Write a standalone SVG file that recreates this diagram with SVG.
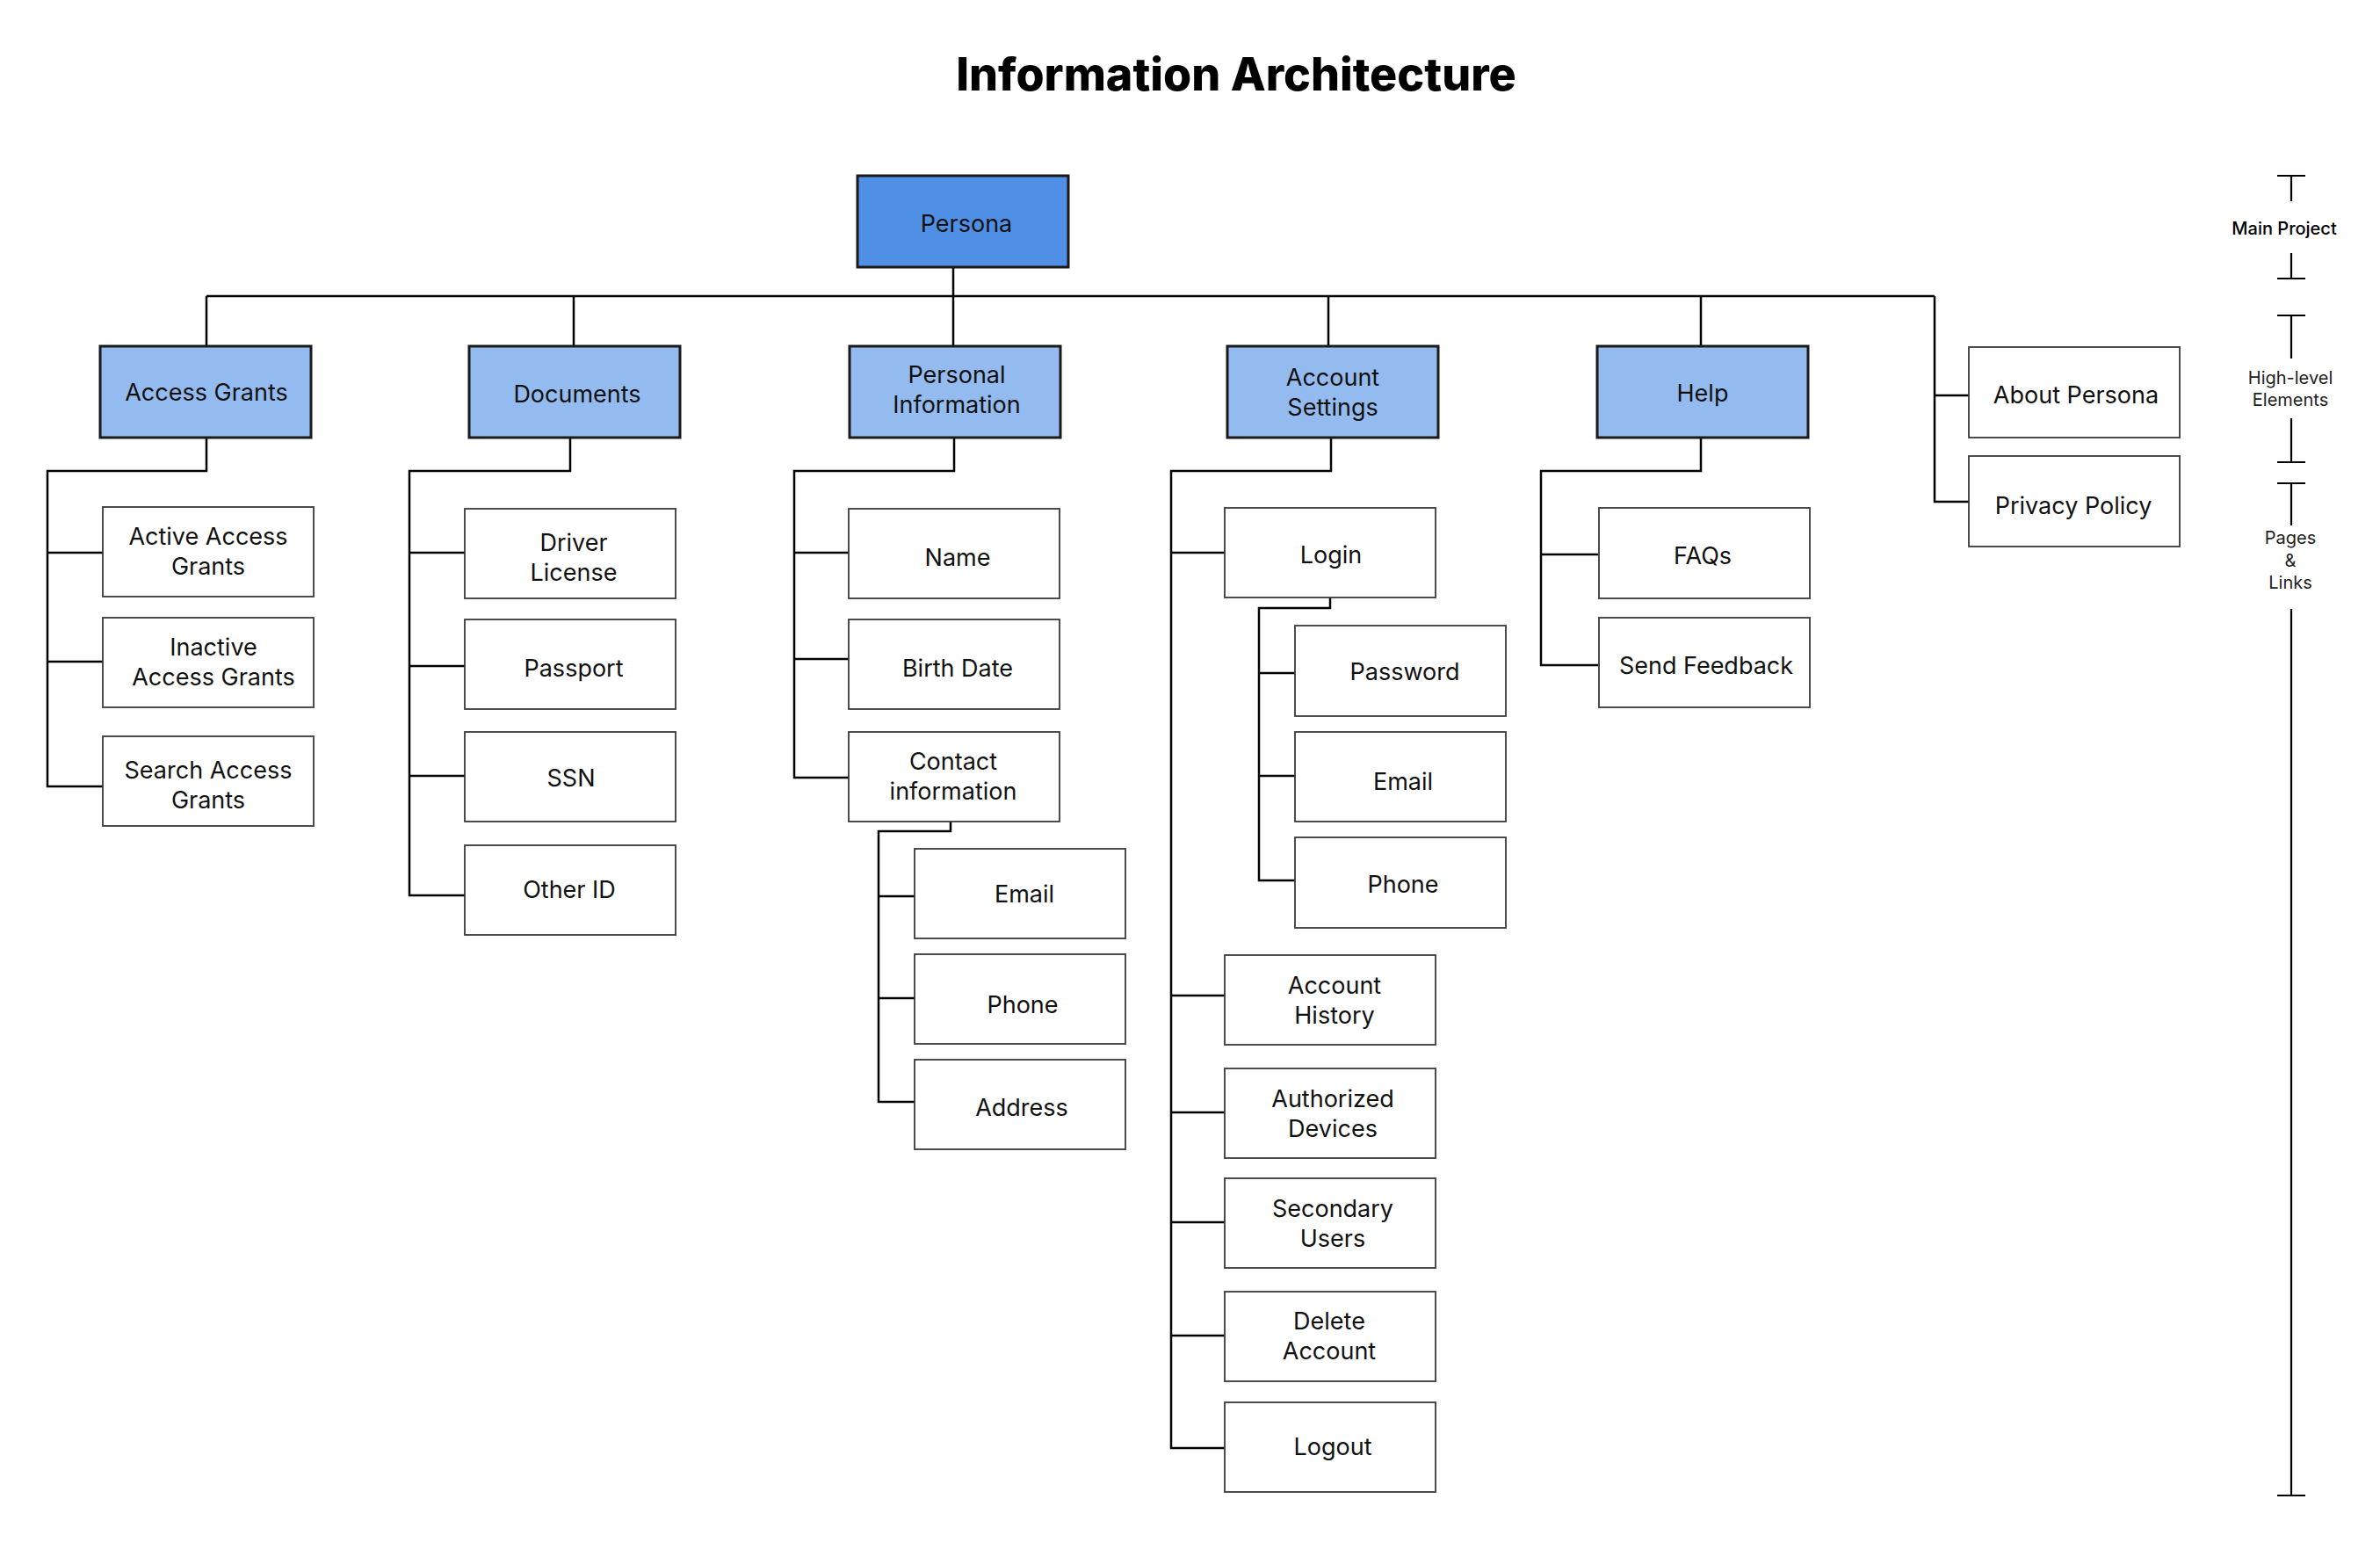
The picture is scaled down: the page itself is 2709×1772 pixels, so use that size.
<svg xmlns="http://www.w3.org/2000/svg" width="2709" height="1772" viewBox="0 0 2709 1772">
<style>
.c{fill:none;stroke:#000;stroke-width:2.5}
.w{fill:#fff;stroke:#3a3a3a;stroke-width:1.8}
.b1{fill:#94bbef;stroke:#1a1a1a;stroke-width:3}
.b0{fill:#4f90e6;stroke:#1a1a1a;stroke-width:3}
.t{font-family:Inter,"Liberation Sans",sans-serif;font-size:27px;fill:#111;text-anchor:middle}
.title{font-family:Inter,"Liberation Sans",sans-serif;font-size:52px;font-weight:800;fill:#000;text-anchor:middle}
.lg{font-family:Inter,"Liberation Sans",sans-serif;font-size:20px;fill:#222;text-anchor:middle}
.lgm{font-family:Inter,"Liberation Sans",sans-serif;font-size:20px;font-weight:500;fill:#000;text-anchor:middle}
.leg{fill:none;stroke:#000;stroke-width:2.2}
</style>
<rect width="2709" height="1772" fill="#fff"/>
<text class="title" x="1407" y="103">Information Architecture</text>

<g id="connectors">
<path class="c" d="M1085 304V337M235 337H2202M235 337V394M653 337V394M1085 337V394M1512 337V394M1936 337V394M2202 337V571H2241M2202 450H2241"/>
<path class="c" d="M235 498V536H54V895H117M54 629H117M54 753H117"/>
<path class="c" d="M649 498V536H466V1019H529M466 629H529M466 758H529M466 883H529"/>
<path class="c" d="M1086 498V536H904V885H966M904 629H966M904 750H966"/>
<path class="c" d="M1082 935V946H1000V1254H1041M1000 1020H1041M1000 1136H1041"/>
<path class="c" d="M1515 498V536H1333V1648H1394M1333 629H1394M1333 1133H1394M1333 1266H1394M1333 1391H1394M1333 1520H1394"/>
<path class="c" d="M1514 680V692H1433V1002H1474M1433 766H1474M1433 883H1474"/>
<path class="c" d="M1936 498V536H1754V757H1819M1754 631H1819"/>
</g>

<g id="persona"><rect class="b0" x="976" y="200" width="240" height="104"/><text class="t" x="1100" y="264">Persona</text></g>

<g id="access-grants"><rect class="b1" x="114" y="394" width="240" height="104"/><text class="t" x="235" y="456">Access Grants</text></g>
<g id="documents"><rect class="b1" x="534" y="394" width="240" height="104"/><text class="t" x="657" y="458">Documents</text></g>
<g id="personal-information"><rect class="b1" x="967" y="394" width="240" height="104"/><text class="t" x="1089" y="436">Personal</text><text class="t" x="1089" y="470">Information</text></g>
<g id="account-settings"><rect class="b1" x="1397" y="394" width="240" height="104"/><text class="t" x="1517" y="439">Account</text><text class="t" x="1517" y="473">Settings</text></g>
<g id="help"><rect class="b1" x="1818" y="394" width="240" height="104"/><text class="t" x="1938" y="457">Help</text></g>
<g id="about-persona"><rect class="w" x="2241" y="395" width="240" height="103"/><text class="t" x="2363" y="459">About Persona</text></g>
<g id="privacy-policy"><rect class="w" x="2241" y="519" width="240" height="103"/><text class="t" x="2360" y="585">Privacy Policy</text></g>

<g id="active-access-grants"><rect class="w" x="117" y="577" width="240" height="102"/><text class="t" x="237" y="620">Active Access</text><text class="t" x="237" y="654">Grants</text></g>
<g id="inactive-access-grants"><rect class="w" x="117" y="703" width="240" height="102"/><text class="t" x="243" y="746">Inactive</text><text class="t" x="243" y="780">Access Grants</text></g>
<g id="search-access-grants"><rect class="w" x="117" y="838" width="240" height="102"/><text class="t" x="237" y="886">Search Access</text><text class="t" x="237" y="920">Grants</text></g>

<g id="driver-license"><rect class="w" x="529" y="579" width="240" height="102"/><text class="t" x="653" y="627">Driver</text><text class="t" x="653" y="661">License</text></g>
<g id="passport"><rect class="w" x="529" y="705" width="240" height="102"/><text class="t" x="653" y="770">Passport</text></g>
<g id="ssn"><rect class="w" x="529" y="833" width="240" height="102"/><text class="t" x="650" y="895">SSN</text></g>
<g id="other-id"><rect class="w" x="529" y="962" width="240" height="102"/><text class="t" x="648" y="1022">Other ID</text></g>

<g id="name"><rect class="w" x="966" y="579" width="240" height="102"/><text class="t" x="1090" y="644">Name</text></g>
<g id="birth-date"><rect class="w" x="966" y="705" width="240" height="102"/><text class="t" x="1090" y="770">Birth Date</text></g>
<g id="contact-information"><rect class="w" x="966" y="833" width="240" height="102"/><text class="t" x="1085" y="876">Contact</text><text class="t" x="1085" y="910">information</text></g>
<g id="contact-email"><rect class="w" x="1041" y="966" width="240" height="102"/><text class="t" x="1166" y="1027">Email</text></g>
<g id="contact-phone"><rect class="w" x="1041" y="1086" width="240" height="102"/><text class="t" x="1164" y="1153">Phone</text></g>
<g id="contact-address"><rect class="w" x="1041" y="1206" width="240" height="102"/><text class="t" x="1163" y="1270">Address</text></g>

<g id="login"><rect class="w" x="1394" y="578" width="240" height="102"/><text class="t" x="1515" y="641">Login</text></g>
<g id="password"><rect class="w" x="1474" y="712" width="240" height="103"/><text class="t" x="1599" y="774">Password</text></g>
<g id="login-email"><rect class="w" x="1474" y="833" width="240" height="102"/><text class="t" x="1597" y="899">Email</text></g>
<g id="login-phone"><rect class="w" x="1474" y="953" width="240" height="103"/><text class="t" x="1597" y="1016">Phone</text></g>
<g id="account-history"><rect class="w" x="1394" y="1087" width="240" height="102"/><text class="t" x="1519" y="1131">Account</text><text class="t" x="1519" y="1165">History</text></g>
<g id="authorized-devices"><rect class="w" x="1394" y="1216" width="240" height="102"/><text class="t" x="1517" y="1260">Authorized</text><text class="t" x="1517" y="1294">Devices</text></g>
<g id="secondary-users"><rect class="w" x="1394" y="1341" width="240" height="102"/><text class="t" x="1517" y="1385">Secondary</text><text class="t" x="1517" y="1419">Users</text></g>
<g id="delete-account"><rect class="w" x="1394" y="1470" width="240" height="102"/><text class="t" x="1513" y="1513">Delete</text><text class="t" x="1513" y="1547">Account</text></g>
<g id="logout"><rect class="w" x="1394" y="1596" width="240" height="102"/><text class="t" x="1517" y="1656">Logout</text></g>

<g id="faqs"><rect class="w" x="1820" y="578" width="240" height="103"/><text class="t" x="1938" y="642">FAQs</text></g>
<g id="send-feedback"><rect class="w" x="1820" y="703" width="240" height="102"/><text class="t" x="1942" y="767">Send Feedback</text></g>

<g id="legend">
<path class="leg" d="M2592 200H2624M2608 200V229M2608 288V317M2592 317H2624M2592 359H2624M2608 359V408M2608 476V526M2592 526H2624M2592 550H2624M2608 550V598M2608 693V1702M2592 1702H2624"/>
<text class="lgm" x="2600" y="267">Main Project</text>
<text class="lg" x="2607" y="437">High-level</text>
<text class="lg" x="2607" y="462">Elements</text>
<text class="lg" x="2607" y="619">Pages</text>
<text class="lg" x="2607" y="645">&amp;</text>
<text class="lg" x="2607" y="670">Links</text>
</g>
</svg>
